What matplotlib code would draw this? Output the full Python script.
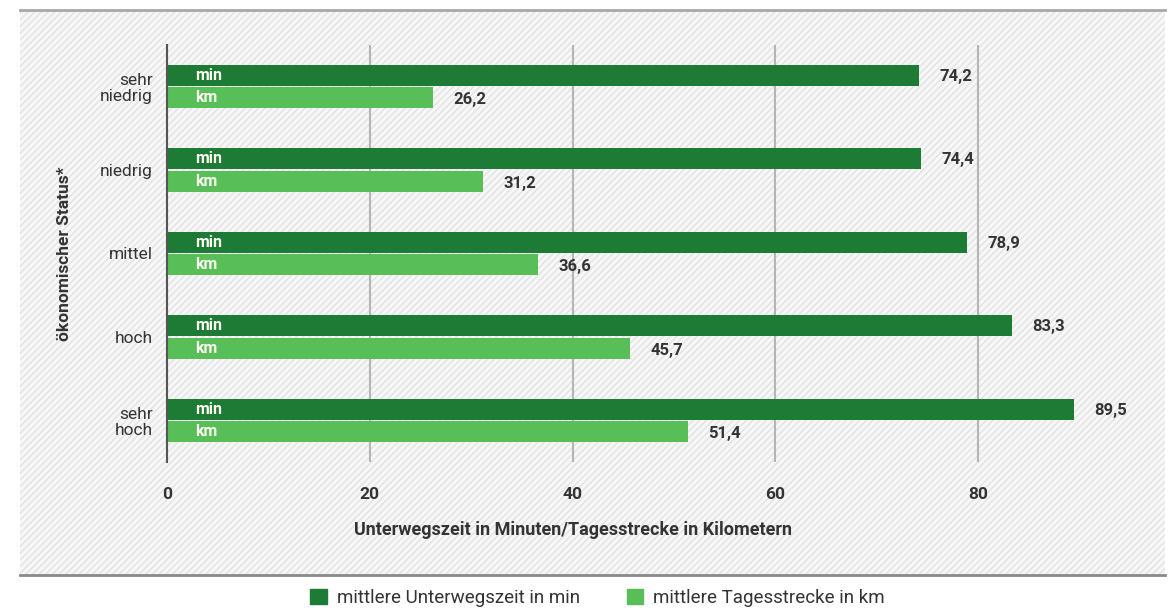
import matplotlib
matplotlib.use("Agg")
import matplotlib.pyplot as plt
from matplotlib.patches import Rectangle, Patch
from matplotlib import font_manager

# Daten
status = ["sehr\nniedrig", "niedrig", "mittel", "hoch", "sehr\nhoch"]
minuten = [74.2, 74.4, 78.9, 83.3, 89.5]
kilometer = [26.2, 31.2, 36.6, 45.7, 51.4]
x_ticks = [0, 20, 40, 60, 80]

namen = {f.name for f in font_manager.fontManager.ttflist}
schrift = "Liberation Sans Narrow" if "Liberation Sans Narrow" in namen else "Roboto"
plt.rcParams["font.family"] = [schrift, "DejaVu Sans"]

dunkel = "#1e7b36"
hell = "#58bf58"
text_farbe = "#333333"

fig = plt.figure(figsize=(11.76, 6.13), dpi=100)

# Schraffierter Hintergrund
hg = Rectangle((0.017, 0.062), 0.974, 0.922, transform=fig.transFigure,
               facecolor="#f7f7f7", edgecolor="#e2e2e2", hatch="/////",
               linewidth=0, zorder=-2)
fig.add_artist(hg)
fig.add_artist(plt.Line2D([0.017, 0.991], [0.984, 0.984], color="#a8a8a8",
                          linewidth=2, transform=fig.transFigure, zorder=-1))
fig.add_artist(plt.Line2D([0.017, 0.991], [0.062, 0.062], color="#8a8a8a",
                          linewidth=2, transform=fig.transFigure, zorder=-1))

ax = fig.add_axes([0.142, 0.246, 0.857, 0.681])
ax.set_zorder(1)
ax.patch.set_alpha(0)

pos = list(range(len(status)))
h = 0.25
ax.barh([p - 0.135 for p in pos], minuten, height=h, color=dunkel, zorder=3)
ax.barh([p + 0.135 for p in pos], kilometer, height=h, color=hell, zorder=3)

for p, m, k in zip(pos, minuten, kilometer):
    ax.text(2.8, p - 0.135, "min", color="#fdfdf0", fontsize=11.5, fontweight="bold",
            va="center", ha="left", zorder=4)
    ax.text(2.8, p + 0.135, "km", color="#fdfdf0", fontsize=11.5, fontweight="bold",
            va="center", ha="left", zorder=4)
    ax.text(m + 2.0, p - 0.12, f"{m:.1f}".replace(".", ","), color=text_farbe,
            fontsize=12, fontweight="bold", va="center", ha="left")
    ax.text(k + 2.0, p + 0.16, f"{k:.1f}".replace(".", ","), color=text_farbe,
            fontsize=12, fontweight="bold", va="center", ha="left")

ax.set_xlim(0, 99.4)
ax.set_ylim(4.5, -0.5)
ax.set_yticks(pos)
ax.set_yticklabels(status, fontsize=12.5, color=text_farbe, ha="right",
                   linespacing=1.1)
ax.set_xticks(x_ticks)
ax.set_xticklabels([str(t) for t in x_ticks], fontsize=12.5, fontweight="bold",
                   color=text_farbe)
ax.tick_params(axis="y", length=0, pad=10)
ax.tick_params(axis="x", length=0, pad=18)
ax.grid(axis="x", color="#b5b5b5", linewidth=1.5, zorder=1)
for s in ["top", "right", "bottom"]:
    ax.spines[s].set_visible(False)
ax.spines["left"].set_color("#555555")
ax.spines["left"].set_linewidth(1.5)
ax.spines["left"].set_zorder(4)

ax.set_xlabel("Unterwegszeit in Minuten/Tagesstrecke in Kilometern",
              fontsize=13, fontweight="bold", color=text_farbe)
ax.xaxis.set_label_coords(0.4025, -0.14)
ax.set_ylabel("ökonomischer Status*", fontsize=12.5, fontweight="bold",
              color=text_farbe, labelpad=20)

handles = [Patch(color=dunkel, label="mittlere Unterwegszeit in min"),
           Patch(color=hell, label="mittlere Tagesstrecke in km")]
leg = fig.legend(handles=handles, loc="center", bbox_to_anchor=(0.508, 0.025),
                 ncol=2, frameon=False, fontsize=13.5, handlelength=0.9,
                 handleheight=0.9, columnspacing=2.5, handletextpad=0.5)
for t in leg.get_texts():
    t.set_color(text_farbe)

fig.savefig("out.png", dpi=100)
